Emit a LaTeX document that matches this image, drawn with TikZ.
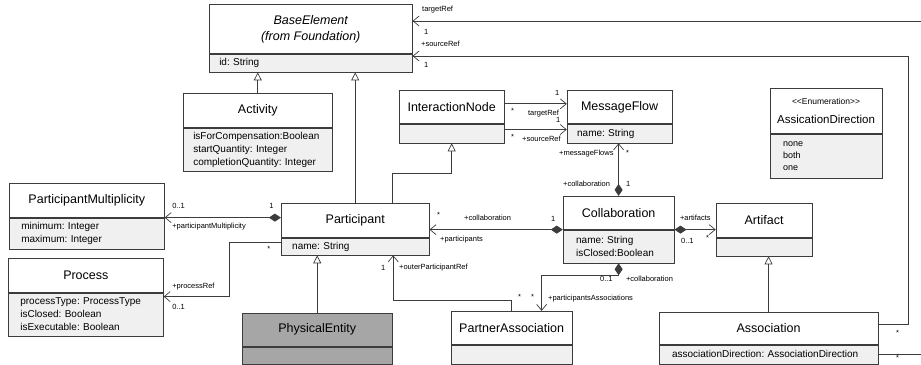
\documentclass[tikz,border=0pt]{standalone}
\usepackage{fontspec}
\usetikzlibrary{arrows.meta,calc}
\newfontfamily\umlfont{Liberation Sans}
\definecolor{linec}{RGB}{60,60,60}
\definecolor{attrc}{RGB}{240,240,240}
\definecolor{darkc}{RGB}{166,166,166}
\frenchspacing

\begin{document}
\begin{tikzpicture}[x=1pt,y=-1pt,line width=0.7pt,
  head/.style={draw=linec,fill=white,anchor=north west,inner sep=0pt,minimum width=#1,font=\umlfont\fontsize{12.5}{16}\selectfont},
  attr/.style={draw=linec,fill=attrc,anchor=north west,inner xsep=10pt,inner ysep=0pt,text width=#1-20pt,align=left,font=\umlfont\fontsize{10}{13}\selectfont},
  lbl/.style={inner sep=0pt,anchor=west,font=\umlfont\fontsize{7.5}{9}\selectfont},
  conn/.style={draw=linec},
  navi/.style={conn,-{Straight Barb[length=6pt,width=10pt]}},
  gen/.style={conn,-{Triangle[open,length=8pt,width=8pt]}},
  compo/.style={conn,{Diamond[length=12pt,width=8pt]}-{Straight Barb[length=6pt,width=10pt]}}]
  \fill[white] (0,0) rectangle (921,365);

  % classes
  \node[head=203pt,minimum height=49pt,align=center,font=\umlfont\itshape\fontsize{12.5}{16}\selectfont] (base) at (209,4) {BaseElement\\(from Foundation)};
  \node[attr=203pt,minimum height=18pt] (base-a) at (base.south west) {id: String};
  \node[head=149pt,minimum height=34pt] (act) at (183,93) {Activity};
  \node[attr=149pt,minimum height=43pt] (act-a) at (act.south west) {isForCompensation:Boolean\\startQuantity: Integer\\completionQuantity: Integer};
  \node[head=105pt,minimum height=33pt] (inode) at (399,90) {InteractionNode};
  \node[attr=105pt,minimum height=19pt] (inode-a) at (inode.south west) {};
  \node[head=105pt,minimum height=33pt] (mflow) at (567,90) {MessageFlow};
  \node[attr=105pt,minimum height=19pt] (mflow-a) at (mflow.south west) {name: String};
  \node[head=112pt,minimum height=45pt,align=center] (enum) at (770,88) {{\fontsize{8.5}{10}\selectfont <<Enumeration>>}\\[3pt]{\fontsize{11.5}{14}\selectfont AssicationDirection}};
  \node[attr=112pt,minimum height=44pt,inner xsep=13pt,text width=86pt,font=\umlfont\fontsize{9}{12}\selectfont] (enum-a) at (enum.south west) {none\\both\\one};
  \node[head=155pt,minimum height=34pt] (pm) at (9,183) {ParticipantMultiplicity};
  \node[attr=155pt,minimum height=31pt,inner xsep=12pt,text width=131pt] (pm-a) at (pm.south west) {minimum: Integer\\maximum: Integer};
  \node[head=155pt,minimum height=34pt] (proc) at (8,258) {Process};
  \node[attr=155pt,minimum height=43pt,inner xsep=12pt,text width=131pt] (proc-a) at (proc.south west) {processType: ProcessType\\isClosed: Boolean\\isExecutable: Boolean};
  \node[head=148pt,minimum height=34pt] (part) at (281,203) {Participant};
  \node[attr=148pt,minimum height=17pt,inner xsep=11pt,text width=126pt] (part-a) at (part.south west) {name: String};
  \node[head=150pt,minimum height=33pt,fill=darkc] (phys) at (242,313) {PhysicalEntity};
  \node[attr=150pt,minimum height=17pt,fill=darkc] (phys-a) at (phys.south west) {};
  \node[head=121pt,minimum height=33pt] (passoc) at (451,311) {PartnerAssociation};
  \node[attr=121pt,minimum height=19pt] (passoc-a) at (passoc.south west) {};
  \node[head=111pt,minimum height=33pt] (collab) at (563,196) {Collaboration};
  \node[attr=111pt,minimum height=33pt,inner xsep=13pt,text width=85pt] (collab-a) at (collab.south west) {name: String\\isClosed:Boolean};
  \node[head=96pt,minimum height=34pt] (art) at (716,203) {Artifact};
  \node[attr=96pt,minimum height=18pt] (art-a) at (art.south west) {};
  \node[head=219pt,minimum height=32pt] (assoc) at (659,312) {Association};
  \node[attr=219pt,minimum height=19pt,inner xsep=13pt,text width=193pt] (assoc-a) at (assoc.south west) {associationDirection: AssociationDirection};

  % connectors
  \draw[gen] (act.north) -- (act.north |- base-a.south);
  \draw[gen] (part.north) -- (part.north |- base-a.south);
  \draw[gen] ([xshift=37pt]part.north) -- ++(0,-30) -| (inode-a.south);
  \draw[navi] ([yshift=3pt]inode.east) -- ([yshift=3pt]mflow.west);
  \draw[navi] ([yshift=4pt]inode-a.east) -- ([yshift=4pt]mflow-a.west);
  \draw[compo] (collab.north) -- (collab.north |- mflow-a.south);
  \draw[compo] (collab.south west) -- (collab.south west -| part.east);
  \draw[compo] (collab.south east) -- (collab.south east -| art.west);
  \draw[compo] (collab-a.south) -- ++(0,12) -| ([xshift=30pt]passoc.north);
  \draw[navi] (passoc.north) -- ++(0,-11) -| ([xshift=38pt]part-a.south);
  \draw[gen] (phys.north) -- (phys.north |- part-a.south);
  \draw[compo] (part.west |- pm.south east) -- (pm.south east);
  \draw[navi] ([yshift=4pt]part-a.west) -- ++(-52,0) |- ([yshift=-4pt]proc.south east);
  \draw[gen] (assoc.north) -- (assoc.north |- art-a.south);
  \draw[navi] ([yshift=4pt]assoc.east) -- ++(30,0) |- ([yshift=7pt]base-a.east);
  \coordinate (tgt) at (921,21);
  \draw[navi] (tgt) -- (tgt -| base.east);
  \draw[conn] (assoc-a.east) -- (assoc-a.east -| tgt);

  % roles and multiplicities
  \node[lbl] (r1) at (422,10) {targetRef};
  \node[lbl] (m1) at (424,32) {1};
  \node[lbl] (r2) at (421,44) {+sourceRef};
  \node[lbl] (m2) at (424,65) {1};
  \node[lbl] (m3) at (555,93) {1};
  \node[lbl] (m4) at (511,111) {*};
  \node[lbl] (r3) at (528,114) {targetRef};
  \node[lbl] (m5) at (556,120) {1};
  \node[lbl] (m6) at (511,137) {*};
  \node[lbl] (r4) at (522,139) {+sourceRef};
  \node[lbl] (r5) at (559,154) {+messageFlows};
  \node[lbl] (m7) at (626,153) {*};
  \node[lbl] (r6) at (563,184) {+collaboration};
  \node[lbl] (m8) at (626,184) {1};
  \node[lbl] (m9) at (437,215) {*};
  \node[lbl] (r7) at (464,218) {+collaboration};
  \node[lbl] (m10) at (551,219) {1};
  \node[lbl] (r8) at (440,240) {+participants};
  \node[lbl] (r9) at (680,218) {+artifacts};
  \node[lbl] (m11) at (681,241) {0..1};
  \node[lbl] (m12) at (706,238) {*};
  \node[lbl] (m13) at (600,279) {0..1};
  \node[lbl] (r10) at (626,279) {+collaboration};
  \node[lbl] (m14) at (518,297) {*};
  \node[lbl] (m15) at (531,297) {*};
  \node[lbl] (r11) at (548,299) {+participantsAssociations};
  \node[lbl] (m16) at (381,268) {1};
  \node[lbl] (r12) at (399,268) {+outerParticipantRef};
  \node[lbl] (m17) at (269,206) {1};
  \node[lbl] (m18) at (172,206) {0..1};
  \node[lbl] (r13) at (172,227) {+participantMultiplicity};
  \node[lbl] (m19) at (267,249) {*};
  \node[lbl] (r14) at (172,287) {+processRef};
  \node[lbl] (m20) at (172,307) {0..1};
  \node[lbl] (m21) at (896,333) {*};
  \node[lbl] (m22) at (896,358) {*};
\end{tikzpicture}
\end{document}
